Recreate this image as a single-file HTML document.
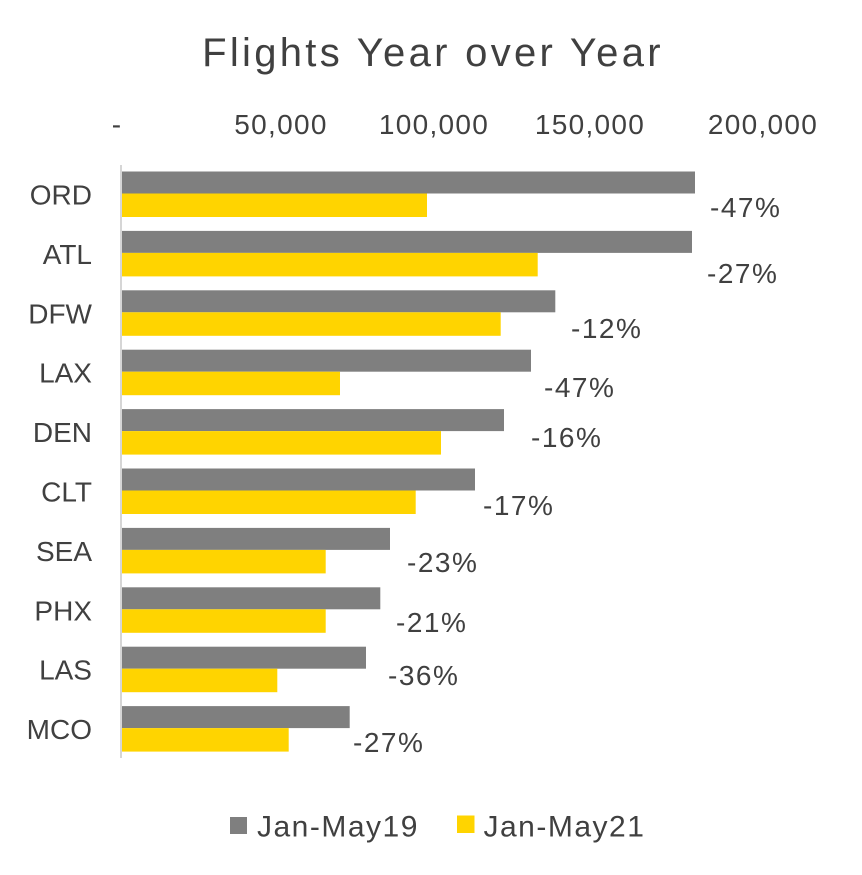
<!DOCTYPE html>
<html>
<head>
<meta charset="utf-8">
<style>
html,body{margin:0;padding:0;background:#fff;}
svg{display:block;}
text{font-family:"Liberation Sans",sans-serif;fill:#404040;}
</style>
</head>
<body>
<svg width="862" height="875" viewBox="0 0 862 875" xmlns="http://www.w3.org/2000/svg">
<rect x="0" y="0" width="862" height="875" fill="#fff"/>
<!-- Title -->
<text x="433" y="66" font-size="40" text-anchor="middle" letter-spacing="3.3">Flights Year over Year</text>
<!-- Axis tick labels -->
<g font-size="28" letter-spacing="1.3" text-anchor="middle">
<text x="117" y="134">-</text>
<text x="281" y="134">50,000</text>
<text x="434" y="134">100,000</text>
<text x="590" y="134">150,000</text>
<text x="763" y="134">200,000</text>
</g>
<!-- axis line -->
<rect x="120" y="165" width="2" height="593" fill="#d6d6d6"/>
<!-- Bars -->
<g>
<rect x="122" y="171.5" width="573" height="22" fill="#7f7f7f"/>
<rect x="122" y="193.5" width="305" height="23.5" fill="#ffd400"/>
<rect x="122" y="230.9" width="570" height="22" fill="#7f7f7f"/>
<rect x="122" y="252.9" width="415.7" height="23.5" fill="#ffd400"/>
<rect x="122" y="290.3" width="433.3" height="22" fill="#7f7f7f"/>
<rect x="122" y="312.3" width="378.7" height="23.5" fill="#ffd400"/>
<rect x="122" y="349.7" width="409" height="22" fill="#7f7f7f"/>
<rect x="122" y="371.7" width="218" height="23.5" fill="#ffd400"/>
<rect x="122" y="409.1" width="382" height="22" fill="#7f7f7f"/>
<rect x="122" y="431.1" width="319" height="23.5" fill="#ffd400"/>
<rect x="122" y="468.5" width="353" height="22" fill="#7f7f7f"/>
<rect x="122" y="490.5" width="293.7" height="23.5" fill="#ffd400"/>
<rect x="122" y="527.9" width="268" height="22" fill="#7f7f7f"/>
<rect x="122" y="549.9" width="203.7" height="23.5" fill="#ffd400"/>
<rect x="122" y="587.3" width="258.3" height="22" fill="#7f7f7f"/>
<rect x="122" y="609.3" width="203.7" height="23.5" fill="#ffd400"/>
<rect x="122" y="646.7" width="244" height="22" fill="#7f7f7f"/>
<rect x="122" y="668.7" width="155.3" height="23.5" fill="#ffd400"/>
<rect x="122" y="706.1" width="227.7" height="22" fill="#7f7f7f"/>
<rect x="122" y="728.1" width="166.7" height="23.5" fill="#ffd400"/>
</g>
<!-- Category labels -->
<g font-size="28" text-anchor="end">
<text x="92" y="204.5">ORD</text>
<text x="92" y="263.9">ATL</text>
<text x="92" y="323.3">DFW</text>
<text x="92" y="382.7">LAX</text>
<text x="92" y="442.1">DEN</text>
<text x="92" y="501.5">CLT</text>
<text x="92" y="560.9">SEA</text>
<text x="92" y="620.3">PHX</text>
<text x="92" y="679.7">LAS</text>
<text x="92" y="739.1">MCO</text>
</g>
<!-- Data labels -->
<g font-size="28" letter-spacing="1.5">
<text x="710" y="217">-47%</text>
<text x="707" y="283">-27%</text>
<text x="571" y="338">-12%</text>
<text x="544" y="397">-47%</text>
<text x="531" y="447">-16%</text>
<text x="483" y="515">-17%</text>
<text x="407" y="572">-23%</text>
<text x="396" y="632">-21%</text>
<text x="388" y="685">-36%</text>
<text x="353" y="752">-27%</text>
</g>
<!-- Legend -->
<rect x="230" y="817" width="17" height="17" fill="#7f7f7f"/>
<text x="257" y="836.5" font-size="30" letter-spacing="1.5">Jan-May19</text>
<rect x="457" y="815.5" width="17.5" height="17.5" fill="#ffd400"/>
<text x="483.5" y="836.5" font-size="30" letter-spacing="1.5">Jan-May21</text>
</svg>
</body>
</html>
